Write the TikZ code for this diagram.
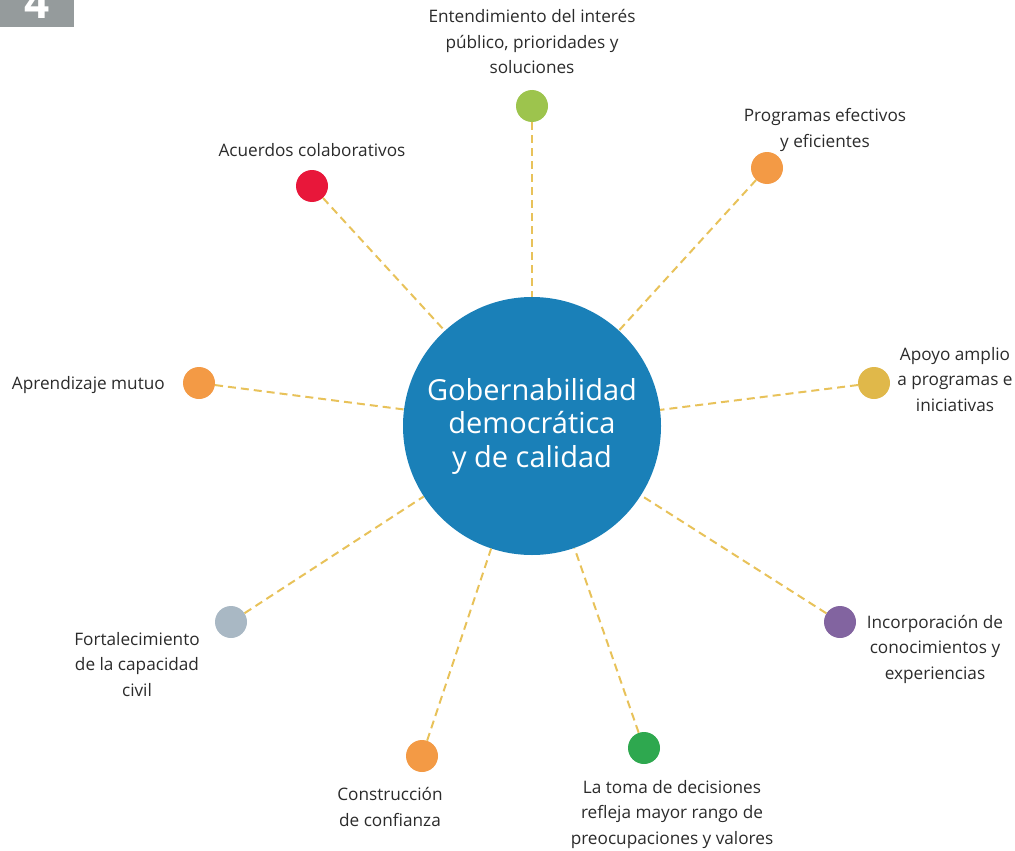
\documentclass[tikz,border=0pt]{standalone}
\usepackage{fontspec}
\setmainfont{Open Sans}
\usetikzlibrary{positioning}

\definecolor{hubblue}{HTML}{1A80B8}
\definecolor{linkyellow}{HTML}{E8C25A}
\definecolor{txtgray}{HTML}{2B2B2B}
\definecolor{tabgray}{HTML}{959B9C}
\definecolor{dotlime}{HTML}{9DC44D}
\definecolor{dotorange}{HTML}{F39A45}
\definecolor{dotred}{HTML}{E8173A}
\definecolor{dotgold}{HTML}{E0B84A}
\definecolor{dotpurple}{HTML}{8264A0}
\definecolor{dotsilver}{HTML}{A9B8C4}
\definecolor{dotgreen}{HTML}{2EA84F}

\tikzset{
  dot/.style={circle, fill=#1, minimum size=32pt, inner sep=0pt},
  label text/.style={text=txtgray, align=center, inner sep=0pt,
    font=\fontsize{17.2}{25.5}\selectfont},
  link/.style={linkyellow, line width=2pt, dash pattern=on 8pt off 5pt}
}

\begin{document}
\begin{tikzpicture}[x=1pt,y=-1pt]
  \useasboundingbox (0,0) rectangle (1015,851);
  % Chapter tab in the corner
  \begin{scope}
    \clip (0,0) rectangle (74,27);
    \fill[tabgray] (0,0) rectangle (74,27);
    \node[text=white, font=\fontsize{44}{44}\bfseries, anchor=base] (tab) at (37,19) {4};
  \end{scope}

  % Central circle
  \node[circle, fill=hubblue, minimum size=258pt, inner sep=0pt, text=white,
    align=center, font=\fontsize{29}{33.5}\selectfont] (hub) at (532,426)
    {Gobernabilidad\\democrática\\y de calidad};

  % Outer dots
  \node[dot=dotlime] (d1) at (532,106) {};
  \node[dot=dotorange] (d2) at (767,168) {};
  \node[dot=dotgold] (d3) at (874,383) {};
  \node[dot=dotpurple] (d4) at (840,622) {};
  \node[dot=dotgreen] (d5) at (644,748) {};
  \node[dot=dotorange] (d6) at (422,756) {};
  \node[dot=dotsilver] (d7) at (231,622) {};
  \node[dot=dotorange] (d8) at (199,383) {};
  \node[dot=dotred] (d9) at (312,186) {};

  % Dashed links to the circle
  \foreach \d in {d1,d2,d3,d4,d5,d6,d7,d8,d9}
    \draw[link] (\d) -- (hub);

  % Labels (base = baseline of the last line)
  \node[label text, anchor=base] (l1) at (532,74) {Entendimiento del interés\\público, prioridades y\\soluciones};
  \node[label text, anchor=base] (l2) at (825,147) {Programas efectivos\\y eficientes};
  \node[label text, anchor=base] (l3) at (955,411) {Apoyo amplio\\a programas e\\iniciativas};
  \node[label text, anchor=base] (l4) at (935,679) {Incorporación de\\conocimientos y\\experiencias};
  \node[label text, anchor=base] (l5) at (672,844) {La toma de decisiones\\refleja mayor rango de\\preocupaciones y valores};
  \node[label text, anchor=base] (l6) at (390,826) {Construcción\\de confianza};
  \node[label text, anchor=base] (l7) at (137,696) {Fortalecimiento\\de la capacidad\\civil};
  \node[label text, anchor=base east] (l8) at (165,389) {Aprendizaje mutuo};
  \node[label text, anchor=base] (l9) at (312,156) {Acuerdos colaborativos};
\end{tikzpicture}
\end{document}
